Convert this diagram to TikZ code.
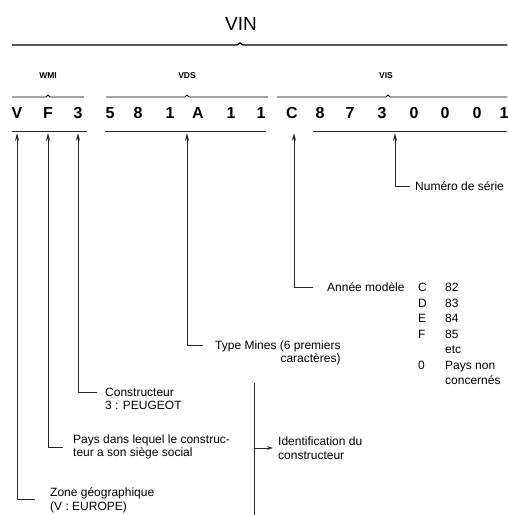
\documentclass[tikz,border=0pt]{standalone}
\usepackage{fontspec}
\setmainfont{Liberation Sans}
\usetikzlibrary{arrows.meta,positioning}

\begin{document}
\begin{tikzpicture}[x=1pt, y=-1pt,
    lbl/.style={inner sep=0pt, font=\fontsize{12}{13.5}\selectfont, align=left},
    chr/.style={inner sep=0pt, font=\fontsize{16}{16}\selectfont\bfseries},
    grp/.style={inner sep=0pt, font=\fontsize{8.5}{9}\selectfont\bfseries},
    gline/.style={line width=0.9pt, line join=round},
    uline/.style={line width=1pt, black!85},
    arrow/.style={-{Stealth[length=8pt, width=4pt]}, line width=0.9pt, black!85, shorten >=2pt}
]
    \useasboundingbox (0,0) rectangle (507,515);

    % Title and group brackets
    \node[font=\fontsize{19}{19}\selectfont] (vin) at (241,24) {VIN};
    \draw[gline, line width=1.3pt] (12,45) -- (237,45) -- (240,43) -- (243,45) -- (507,45);

    \node[grp] (wmi) at (48,76) {WMI};
    \node[grp] (vds) at (187,76) {VDS};
    \node[grp] (vis) at (386,76) {VIS};
    \draw[gline] (12,97) -- (46,97) -- (48,95) -- (50,97) -- (84,97);
    \draw[gline] (106,97) -- (185,97) -- (187,95) -- (189,97) -- (268,97);
    \draw[gline] (277,97) -- (386,97) -- (388,95) -- (390,97) -- (507,97);

    % Characters of the number
    \foreach \ch/\x [count=\i] in {V/17, F/48, 3/78, 5/110, 8/138, 1/170, A/198, 1/231, 1/261,
        C/292, 8/320, 7/350, 3/382, 0/414, 0/445, 0/477, 1/504}
        \node[chr] (c\i) at (\x,113) {\ch};

    % Lines under the characters
    \coordinate (ul) at (0,131);
    \draw[uline] (12,131) -- (87,131);
    \draw[uline] (105,131) -- (266,131);
    \draw[uline] (313,131) -- (507,131);
    \coordinate (pVds) at (187,131);
    \coordinate (pC) at (294,131);
    \coordinate (pVis) at (395,131);

    % Labels
    \node[lbl, anchor=west] (num) at (415,186) {Numéro de série};
    \node[lbl, anchor=west] (annee) at (327,287) {Année modèle};
    \node[lbl, anchor=north west] (yrs) at (418,280.5) {\fontsize{12}{15.5}\selectfont
        \begin{tabular}{@{}p{27pt}@{}l@{}}
        C & 82\\ D & 83\\ E & 84\\ F & 85\\ & etc\\ 0 & Pays non\\ & concernés
        \end{tabular}};
    \node[lbl, align=right, anchor=north west] (type) at (215,340.5) {Type Mines (6 premiers\\caractères)};
    \node[lbl, anchor=north west] (cstr) at (105,387.7) {Constructeur\\3 : PEUGEOT};
    \node[lbl, anchor=west] (pays) at (73,447) {Pays dans lequel le construc-\\teur a son siège social};
    \node[lbl, anchor=north west] (zone) at (50,487.5) {Zone géographique\\(V : EUROPE)};
    \node[lbl, anchor=west] (ident) at (278,448) {Identification du\\constructeur};

    % Connectors
    \draw[arrow, shorten <=5pt] (num.west) -| (pVis);
    \draw[arrow, shorten <=14pt] (annee.west) -| (pC);
    \draw[arrow, shorten <=12pt] ([yshift=-4.5pt]type.north west) -| (pVds);
    \draw[arrow, shorten <=8pt] ([yshift=-4.5pt]cstr.north west) -| (c3 |- ul);
    \draw[arrow, shorten <=10pt] (pays.west) -| (c2 |- ul);
    \draw[arrow, shorten <=15pt] ([yshift=-12pt]zone.north west) -| (c1 |- ul);

    % Bracket for the manufacturer
    \coordinate (brkt) at (254,383);
    \coordinate (brkb) at (254,520);
    \draw[uline] (brkt) -- (brkb);
    \draw[arrow, -{Stealth[length=6pt, width=3.5pt]}, shorten >=5pt] (brkt |- ident.west) -- (ident.west);
\end{tikzpicture}
\end{document}
